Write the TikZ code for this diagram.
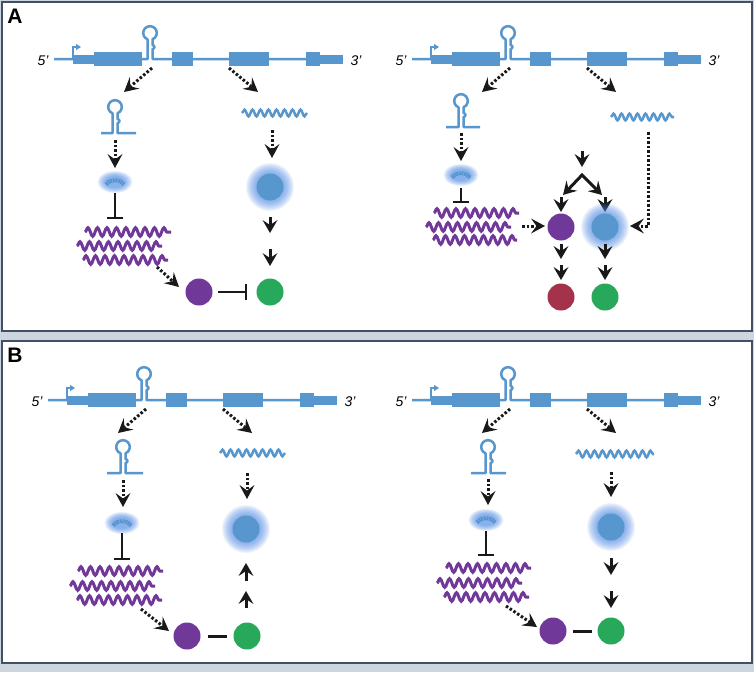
\documentclass[tikz,border=0pt]{standalone}
\usepackage{fontspec}
\setmainfont{Liberation Sans}
\usetikzlibrary{arrows.meta,decorations.pathmorphing}
\definecolor{gblue}{RGB}{88,150,206}
\definecolor{glowc}{RGB}{80,140,230}
\definecolor{pviolet}{RGB}{112,56,152}
\definecolor{ggreen}{RGB}{40,168,90}
\definecolor{gred}{RGB}{165,50,75}
\definecolor{ink}{RGB}{25,25,25}
\definecolor{framec}{RGB}{65,80,100}
\definecolor{bgc}{RGB}{205,213,222}
% hairpin: #1 x, #2 base y, #3 left end, #4 right end
\newcommand\hp[4]{%
  \draw[gline,line join=round] (#3,#2) -- ({#1-2.5},#2) -- ({#1-2.5},{#2-19.7})
    arc[start angle=111.6,end angle=428.4,radius=6.8]
    -- ({#1+2.5},{#2-14}) arc[start angle=-90,end angle=90,radius=2]
    -- ({#1+2.5},#2) -- (#4,#2);}
\newcommand\glowcirc[2]{%
  \foreach \k in {0,...,10}{\fill[glowc,opacity=0.09] (#1,#2) circle ({24-\k});}}
\newcommand\glowarc[2]{%
  \foreach \k in {0,...,9}{\fill[glowc,opacity=0.1] (#1,#2) ellipse ({17.5-0.9*\k} and {11-0.6*\k});}
  \draw[gblue,line width=4pt,dash pattern=on 2pt off 0.7pt] ({#1-9},{#2+2.5}) .. controls ({#1-4},{#2-3.5}) and ({#1+4},{#2-3.5}) .. ({#1+9},{#2+2.5});}
\newcommand\gene[3]{%
  \begin{scope}[shift={(#1,#2)}]
    \hp{150}{59}{54}{343}
    \fill[gblue] (73,55) rectangle (94,63.5);
    \fill[gblue] (94,52) rectangle (142,66);
    \fill[gblue] (172,52) rectangle (193,66);
    \fill[gblue] (229,52) rectangle (269,66);
    \fill[gblue] (306,52) rectangle (320,66);
    \fill[gblue] (320,55) rectangle (343,63.5);
    \draw[gblue,line width=1.5pt,-{Triangle[length=5pt,width=6pt]}] (73,59) -- (73,47) -- (81,47);
    \node[lab] (#3five) at (43,61) {5’};
    \node[lab] (#3three) at (356,61) {3’};
  \end{scope}}
\begin{document}
\begin{tikzpicture}[x=1pt,y=-1pt,
  gline/.style={gblue,line width=2.5pt},
  dotarr/.style={draw=ink,line width=3pt,dash pattern=on 2.5pt off 2pt,-{Stealth[length=14pt,width=15pt,inset=5.5pt,line width=0pt]}},
  solarr/.style={draw=ink,line width=3pt,-{Stealth[length=13pt,width=15pt,inset=5pt,line width=0pt]}},
  inhib/.style={draw=ink,line width=2.5pt,-{Bar[width=16pt]}},
  bondline/.style={draw=ink,line width=3pt},
  pwave/.style={draw=pviolet,line width=3pt,decorate,decoration={snake,amplitude=4.3pt,segment length=9.5pt}},
  bwave/.style={draw=gblue,line width=2.5pt,decorate,decoration={snake,amplitude=3.3pt,segment length=8pt}},
  ball/.style={circle,minimum size=27pt,inner sep=0pt},
  lab/.style={font=\fontsize{14}{16}\selectfont\itshape,inner sep=0pt},
  panlab/.style={font=\fontsize{21}{23}\selectfont\bfseries,inner sep=0pt},
]
\useasboundingbox (0,0) rectangle (754,672);
\fill[bgc] (0,0) rectangle (754,672);
\draw[fill=white,draw=framec,line width=2pt] (2,2) rectangle (752,331);
\draw[fill=white,draw=framec,line width=2pt] (2,341) rectangle (752,663);
\node[panlab] (labA) at (15,16) {A};
\node[panlab] (labB) at (15,355) {B};

\gene{0}{0}{gAL}
\gene{358}{0}{gAR}
\gene{-6}{341}{gBL}
\gene{358}{341}{gBR}

% ================= A left =================
\coordinate (al1s) at (152,68); \coordinate (al1e) at (124,92);
\coordinate (al2s) at (229,68); \coordinate (al2e) at (258,92);
\draw[dotarr] (al1s) -- (al1e);
\draw[dotarr] (al2s) -- (al2e);
\hp{115}{133}{101}{136}
\draw[bwave] (242,113) -- (307,113);
\coordinate (al3s) at (115,140); \coordinate (al3e) at (115,168);
\coordinate (al4s) at (272,130); \coordinate (al4e) at (272,158);
\draw[dotarr] (al3s) -- (al3e);
\draw[dotarr] (al4s) -- (al4e);
\glowarc{115}{182}
\glowcirc{270}{187}
\node[ball,fill=gblue] (bAL) at (270,187) {};
\coordinate (al5s) at (115,193); \coordinate (al5e) at (115,219);
\draw[inhib] (al5s) -- (al5e);
\draw[pwave] (85,232) -- (171,232);
\draw[pwave] (77,246) -- (162,246);
\draw[pwave] (83,260) -- (168,260);
\coordinate (al6s) at (157,267); \coordinate (al6e) at (179,287);
\draw[dotarr] (al6s) -- (al6e);
\node[ball,fill=pviolet] (pAL) at (199,292) {};
\node[ball,fill=ggreen] (gAL) at (270,292) {};
\coordinate (al7s) at (218,292); \coordinate (al7e) at (247,292);
\draw[inhib] (al7s) -- (al7e);
\coordinate (al8s) at (270,217); \coordinate (al8e) at (270,233);
\coordinate (al9s) at (270,249); \coordinate (al9e) at (270,266);
\draw[solarr] (al8s) -- (al8e);
\draw[solarr] (al9s) -- (al9e);

% ================= A right =================
\coordinate (ar1s) at (510,68); \coordinate (ar1e) at (482,92);
\coordinate (ar2s) at (587,68); \coordinate (ar2e) at (616,92);
\draw[dotarr] (ar1s) -- (ar1e);
\draw[dotarr] (ar2s) -- (ar2e);
\hp{461}{127}{446}{480}
\draw[bwave] (611,117) -- (674,117);
\coordinate (ar3s) at (461,133); \coordinate (ar3e) at (461,161);
\draw[dotarr] (ar3s) -- (ar3e);
\glowarc{461}{175}
\coordinate (ar4s) at (461,188); \coordinate (ar4e) at (461,203);
\draw[inhib] (ar4s) -- (ar4e);
\draw[pwave] (434,213) -- (519,213);
\draw[pwave] (426,227) -- (511,227);
\draw[pwave] (433,240) -- (517,240);
\coordinate (ar5s) at (582,151); \coordinate (ar5e) at (582,167);
\draw[solarr] (ar5s) -- (ar5e);
\coordinate (apex) at (582,175);
\coordinate (brl) at (563,195); \coordinate (brr) at (602,195);
\draw[draw=ink,line width=3pt,line join=miter,{Stealth[length=13pt,width=15pt,inset=5pt,line width=0pt]}-{Stealth[length=13pt,width=15pt,inset=5pt,line width=0pt]}] (brl) -- (apex) -- (brr);
\coordinate (ar6s) at (561,197); \coordinate (ar6e) at (561,212);
\coordinate (ar7s) at (605,197); \coordinate (ar7e) at (605,212);
\draw[solarr] (ar6s) -- (ar6e);
\draw[solarr] (ar7s) -- (ar7e);
\glowcirc{605}{227}
\node[ball,fill=pviolet] (pAR) at (561,227) {};
\node[ball,fill=gblue] (bAR) at (605,227) {};
\coordinate (ar8s) at (522,226); \coordinate (ar8e) at (545,226);
\draw[dotarr] (ar8s) -- (ar8e);
\coordinate (ar9s) at (648,132); \coordinate (ar9c) at (648,226); \coordinate (ar9e) at (630,226);
\draw[dotarr] (ar9s) -- (ar9c) -- (ar9e);
\coordinate (ar10s) at (561,244); \coordinate (ar10e) at (561,259);
\coordinate (ar11s) at (561,265); \coordinate (ar11e) at (561,280);
\coordinate (ar12s) at (605,244); \coordinate (ar12e) at (605,259);
\coordinate (ar13s) at (605,265); \coordinate (ar13e) at (605,280);
\draw[solarr] (ar10s) -- (ar10e);
\draw[solarr] (ar11s) -- (ar11e);
\draw[solarr] (ar12s) -- (ar12e);
\draw[solarr] (ar13s) -- (ar13e);
\node[ball,fill=gred] (rAR) at (561,297) {};
\node[ball,fill=ggreen] (gAR) at (605,297) {};

% ================= B left =================
\coordinate (bl1s) at (146,409); \coordinate (bl1e) at (118,433);
\coordinate (bl2s) at (223,409); \coordinate (bl2e) at (252,433);
\draw[dotarr] (bl1s) -- (bl1e);
\draw[dotarr] (bl2s) -- (bl2e);
\hp{123}{473}{107}{143}
\draw[bwave] (220,453) -- (285,453);
\coordinate (bl3s) at (123,480); \coordinate (bl3e) at (123,507);
\coordinate (bl4s) at (247,473); \coordinate (bl4e) at (247,499);
\draw[dotarr] (bl3s) -- (bl3e);
\draw[dotarr] (bl4s) -- (bl4e);
\glowarc{122}{523}
\glowcirc{246}{529}
\node[ball,fill=gblue] (bBL) at (246,529) {};
\coordinate (bl5s) at (122,533); \coordinate (bl5e) at (122,560);
\draw[inhib] (bl5s) -- (bl5e);
\draw[pwave] (78,571) -- (163,571);
\draw[pwave] (70,586) -- (155,586);
\draw[pwave] (77,600) -- (162,600);
\coordinate (bl6s) at (141,609); \coordinate (bl6e) at (169,631);
\draw[dotarr] (bl6s) -- (bl6e);
\node[ball,fill=pviolet] (pBL) at (187,636) {};
\node[ball,fill=ggreen] (gBL) at (247,636) {};
\draw[bondline] (208,636) -- (227,636);
\coordinate (bl7s) at (246,581); \coordinate (bl7e) at (246,563);
\coordinate (bl8s) at (246,608); \coordinate (bl8e) at (246,591);
\draw[solarr] (bl7s) -- (bl7e);
\draw[solarr] (bl8s) -- (bl8e);

% ================= B right =================
\coordinate (br1s) at (510,409); \coordinate (br1e) at (482,433);
\coordinate (br2s) at (587,409); \coordinate (br2e) at (616,433);
\draw[dotarr] (br1s) -- (br1e);
\draw[dotarr] (br2s) -- (br2e);
\hp{488}{473}{471}{506}
\draw[bwave] (576,454) -- (654,454);
\coordinate (br3s) at (488,479); \coordinate (br3e) at (488,505);
\coordinate (br4s) at (611,472); \coordinate (br4e) at (611,497);
\draw[dotarr] (br3s) -- (br3e);
\draw[dotarr] (br4s) -- (br4e);
\glowarc{486}{520}
\glowcirc{611}{527}
\node[ball,fill=gblue] (bBR) at (611,527) {};
\coordinate (br5s) at (486,531); \coordinate (br5e) at (486,556);
\draw[inhib] (br5s) -- (br5e);
\draw[pwave] (446,568) -- (531,568);
\draw[pwave] (437,583) -- (522,583);
\draw[pwave] (444,597) -- (529,597);
\coordinate (br6s) at (506,606); \coordinate (br6e) at (537,627);
\draw[dotarr] (br6s) -- (br6e);
\node[ball,fill=pviolet] (pBR) at (553,631) {};
\node[ball,fill=ggreen] (gBR) at (611,631) {};
\draw[bondline] (573,631) -- (592,631);
\coordinate (br7s) at (611,558); \coordinate (br7e) at (611,575);
\coordinate (br8s) at (611,591); \coordinate (br8e) at (611,608);
\draw[solarr] (br7s) -- (br7e);
\draw[solarr] (br8s) -- (br8e);
\end{tikzpicture}
\end{document}
